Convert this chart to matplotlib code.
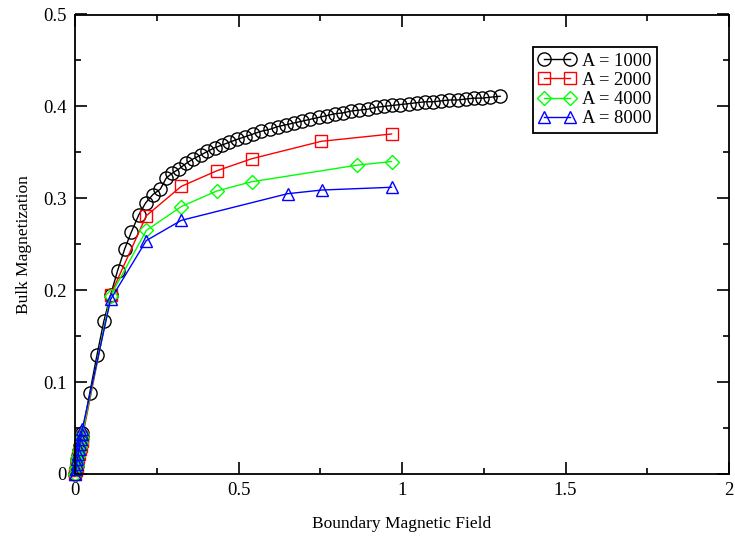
import matplotlib
matplotlib.use("Agg")
import matplotlib.pyplot as plt
from matplotlib.ticker import MultipleLocator, FuncFormatter

plt.rcParams['font.family'] = ['Liberation Serif', 'DejaVu Serif']

# ---- data ----
near_x = [0.0, 0.0025, 0.005, 0.0075, 0.010, 0.0125, 0.015, 0.0175, 0.020, 0.0225]
near_y = [0.0, 0.005, 0.010, 0.015, 0.020, 0.025, 0.030, 0.035, 0.040, 0.045]

a1000_x = near_x + [0.045, 0.067, 0.088, 0.109, 0.130, 0.152, 0.172, 0.195, 0.216,
                    0.238, 0.261, 0.279, 0.296, 0.318, 0.340, 0.362, 0.384, 0.405,
                    0.427, 0.450, 0.472, 0.495, 0.520, 0.545, 0.570, 0.595, 0.620,
                    0.645, 0.670, 0.695, 0.720, 0.745, 0.770, 0.795, 0.820, 0.845,
                    0.870, 0.895, 0.920, 0.945, 0.970, 0.995, 1.020, 1.045, 1.070,
                    1.095, 1.120, 1.145, 1.170, 1.195, 1.220, 1.245, 1.270, 1.300]
a1000_y = near_y + [0.088, 0.129, 0.166, 0.195, 0.221, 0.245, 0.263, 0.282, 0.295,
                    0.304, 0.310, 0.322, 0.327, 0.332, 0.338, 0.343, 0.347, 0.351,
                    0.355, 0.358, 0.361, 0.364, 0.367, 0.370, 0.373, 0.375, 0.378,
                    0.380, 0.382, 0.384, 0.386, 0.388, 0.390, 0.392, 0.393, 0.395,
                    0.396, 0.397, 0.399, 0.400, 0.401, 0.402, 0.403, 0.404, 0.405,
                    0.405, 0.406, 0.407, 0.407, 0.408, 0.409, 0.409, 0.410, 0.411]

a2000_x = near_x + [0.109, 0.218, 0.325, 0.434, 0.540, 0.753, 0.968]
a2000_y = [0.0, 0.004, 0.009, 0.013, 0.018, 0.022, 0.027, 0.031, 0.036, 0.040] + \
          [0.195, 0.281, 0.313, 0.330, 0.343, 0.362, 0.370]

a4000_x = near_x + [0.109, 0.218, 0.325, 0.434, 0.540, 0.862, 0.968]
a4000_y = [0.0, 0.005, 0.010, 0.015, 0.020, 0.025, 0.029, 0.034, 0.039, 0.044] + \
          [0.194, 0.265, 0.291, 0.308, 0.318, 0.336, 0.340]

a8000_x = near_x + [0.109, 0.218, 0.325, 0.650, 0.755, 0.968]
a8000_y = [0.0, 0.005, 0.011, 0.016, 0.022, 0.027, 0.033, 0.038, 0.044, 0.049] + \
          [0.190, 0.254, 0.276, 0.305, 0.309, 0.312]

labels = ["A = 1000", "A = 2000", "A = 4000", "A = 8000"]
colors = ["#000000", "#ff0000", "#00ff00", "#0000ff"]
markers = ["o", "s", "D", "^"]
msizes = [9.5, 8.5, 7.0, 9.0]

fig = plt.figure(figsize=(7.35, 5.39), dpi=100)
ax = fig.add_axes([75/735, 1 - 474/539, (729 - 75)/735, (474 - 14.5)/539])

series = [(a1000_x, a1000_y), (a2000_x, a2000_y), (a4000_x, a4000_y), (a8000_x, a8000_y)]
for (xs, ys), lab, c, m, ms in zip(series, labels, colors, markers, msizes):
    ax.plot(xs, ys, color=c, lw=1.0, marker=m, ms=ms, mfc='none', mec=c, mew=1.0,
            label=lab, clip_on=False)

ax.set_xlim(0, 2)
ax.set_ylim(0, 0.5)
ax.xaxis.set_major_locator(MultipleLocator(0.5))
ax.xaxis.set_minor_locator(MultipleLocator(0.25))
ax.yaxis.set_major_locator(MultipleLocator(0.1))
ax.yaxis.set_minor_locator(MultipleLocator(0.05))
ax.xaxis.set_major_formatter(FuncFormatter(lambda v, p: "%g" % v))
ax.yaxis.set_major_formatter(FuncFormatter(lambda v, p: "%g" % v))

ax.tick_params(which='both', direction='in', top=True, right=True, width=1.2, labelsize=13.5)
ax.tick_params(which='major', length=8.5, pad=6)
ax.tick_params(which='minor', length=4.5)
for s in ax.spines.values():
    s.set_linewidth(1.3)

ax.set_xlabel("Boundary Magnetic Field", fontsize=12.5, labelpad=12)
ax.set_ylabel("Bulk Magnetization", fontsize=12.5, labelpad=8)

leg = ax.legend(loc='upper left', bbox_to_anchor=(0.700, 0.929), fontsize=13.3,
                numpoints=2, handlelength=2.0, handletextpad=0.35, borderpad=0.3,
                borderaxespad=0.0, labelspacing=0.12, fancybox=False, framealpha=1,
                edgecolor='black')
leg.get_frame().set_linewidth(1.3)

fig.savefig("out.png", dpi=100)
